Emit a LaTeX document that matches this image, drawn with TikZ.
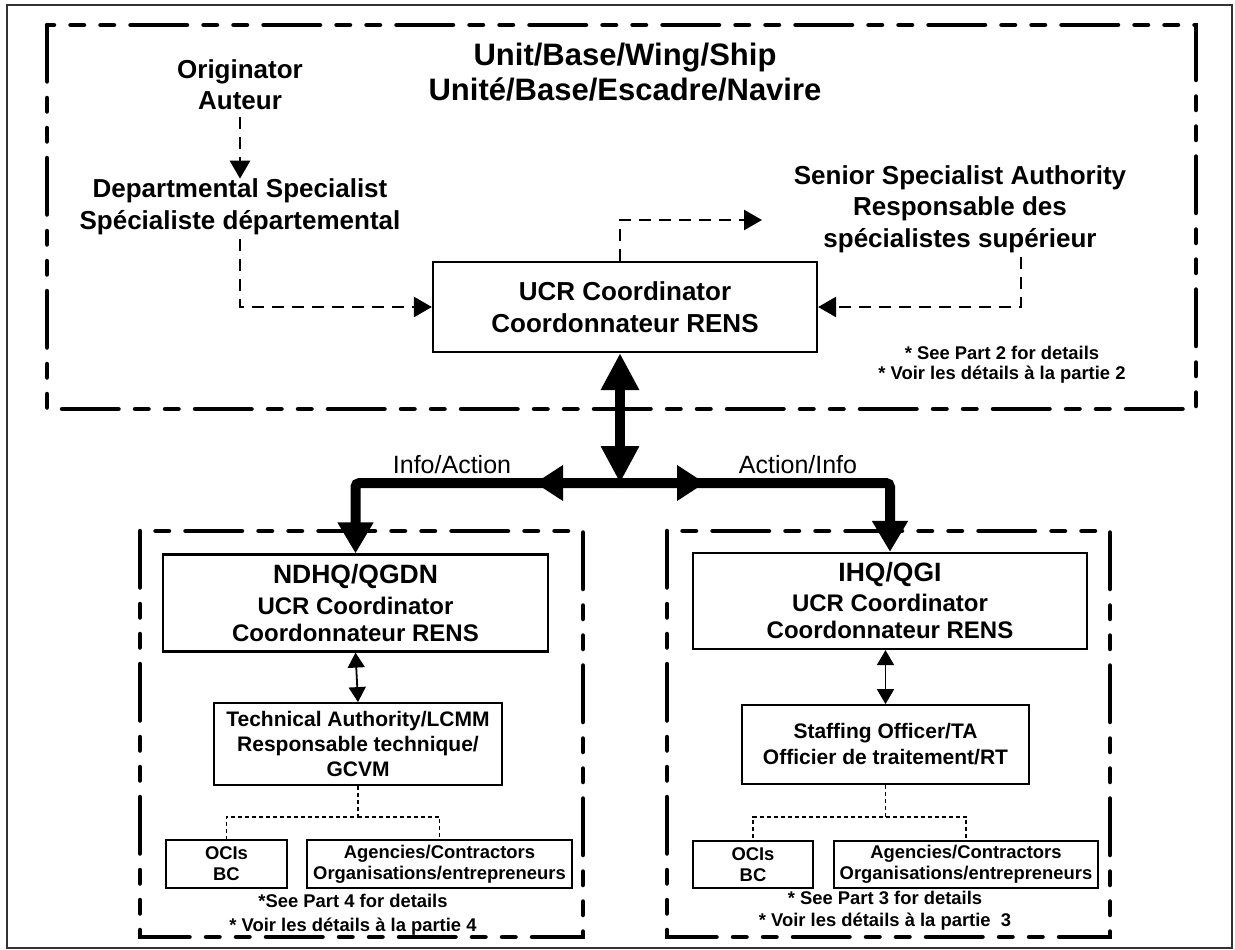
\documentclass[tikz,border=0pt]{standalone}
\usepackage{fontspec}
\setmainfont{Liberation Sans}
\usetikzlibrary{arrows.meta,decorations.markings}
\newcommand{\fsz}[2]{\fontsize{#1}{#2}\selectfont}
\begin{document}
\begin{tikzpicture}[x=1pt,y=-1pt,
  lbl/.style={align=center, inner sep=0pt, font=\bfseries\fsz{26}{31}},
  bx/.style={draw, line width=2.2pt, inner sep=0pt, align=center},
  sbx/.style={draw, line width=1.8pt, inner sep=0pt, align=center},
  note/.style={align=center, inner sep=0pt},
  dbox/.style={line width=4.5pt, line cap=round, dash pattern=on 56.5pt off 16.5pt on 13.5pt off 16.5pt on 13.5pt off 16.5pt},
  dconn/.style={line width=2.5pt, dash pattern=on 12pt off 8pt, -{Triangle[length=18pt 0,width=20pt 0]}},
  bigc/.style={line width=10pt, rounded corners=4pt, -{Triangle[length=31pt 0,width=34pt 0]}},
  midarrow/.style={postaction={decorate}, decoration={markings, mark=at position #1 with {\arrow{Triangle[length=28pt 0,width=34pt 0]}}}},
  bigdbl/.style={line width=10pt, >={Triangle[length=37pt 0,width=36pt 0]}, <->},
  smalldbl/.style={line width=1.8pt, >={Triangle[length=15pt 0,width=17pt 0]}, <->},
  dotc/.style={line width=1.3pt, dash pattern=on 4pt off 3pt}
]
\useasboundingbox (0,0) rectangle (1235,950);
\fill[white] (0,0) rectangle (1235,950);

% frames
\draw[line width=1.8pt, black!80] (7,5) rectangle (1232,948);
\draw[dbox] (47,25) rectangle (1196,409);
\draw[dbox] (140,531) rectangle (583,937);
\draw[dbox] (667,531) rectangle (1110,937);

% top area
\node[lbl, font=\bfseries\fsz{31}{35}] (title) at (625,72) {Unit/Base/Wing/Ship\\Unité/Base/Escadre/Navire};
\node[lbl] (orig) at (240,85) {Originator\\Auteur};
\node[lbl, font=\bfseries\fsz{26}{32}] (dept) at (240,207) {Departmental Specialist\\Spécialiste départemental};
\node[lbl, font=\bfseries\fsz{26}{31.5}] (ssa) at (960,209) {Senior Specialist Authority\\Responsable des\\spécialistes supérieur};
\node[bx, minimum width=384pt, minimum height=90pt, font=\bfseries\fsz{26}{32}] (ucr) at (625,307) {UCR Coordinator\\Coordonnateur RENS};
\node[note, font=\bfseries\fsz{18.4}{20}] (n2) at (1002,365) {* See Part 2 for details\\* Voir les détails à la partie 2};

\coordinate (hub) at (620,483);
\coordinate (ssaend) at (762,220);
\coordinate (ssadrop) at (1021,257);

\node[inner sep=0pt, font=\fsz{25}{30}] (ia) at (452,465) {Info/Action};
\node[inner sep=0pt, font=\fsz{25}{30}] (ai) at (798,465) {Action/Info};

% lower left
\node[bx, minimum width=385pt, minimum height=97pt, font=\bfseries\fsz{24}{27}] (ndhq) at (355.5,603) {{\fsz{26.5}{27}NDHQ/QGDN}\\[4pt]UCR Coordinator\\Coordonnateur RENS};
\node[sbx, minimum width=288pt, minimum height=82pt, font=\bfseries\fsz{21}{25}] (ta) at (358,744) {Technical Authority/LCMM\\Responsable technique/\\GCVM};
\node[sbx, minimum width=121pt, minimum height=48pt, font=\bfseries\fsz{18.4}{21}] (ocil) at (226.5,864) {OCIs\\BC};
\node[sbx, minimum width=265pt, minimum height=48pt, font=\bfseries\fsz{18.4}{21}] (agl) at (439.5,864) {Agencies/Contractors\\Organisations/entrepreneurs};
\node[note, font=\bfseries\fsz{18.4}{24}] (n4) at (353,915) {*See Part 4 for details\\* Voir les détails à la partie 4};

% lower right
\node[bx, minimum width=394pt, minimum height=96pt, font=\bfseries\fsz{24}{27}] (ihq) at (890,601) {{\fsz{26.5}{27}IHQ/QGI}\\[3pt]UCR Coordinator\\Coordonnateur RENS};
\node[sbx, minimum width=287pt, minimum height=79pt, font=\bfseries\fsz{21}{26}] (so) at (885.5,744.5) {Staffing Officer/TA\\Officier de traitement/RT};
\node[sbx, minimum width=120pt, minimum height=47pt, font=\bfseries\fsz{18.4}{21}] (ocir) at (753,864.5) {OCIs\\BC};
\node[sbx, minimum width=264pt, minimum height=47pt, font=\bfseries\fsz{18.4}{21}] (agr) at (966,864.5) {Agencies/Contractors\\Organisations/entrepreneurs};
\node[note, font=\bfseries\fsz{18.4}{22}] (n3) at (885,911) {* See Part 3 for details\\* Voir les détails à la partie~~3};

% connectors
\draw[dconn, shorten <=7pt] (orig) -- (dept);
\draw[dconn, shorten <=4pt] (dept.south) |- (ucr.west);
\draw[dconn] (ucr.north -| hub) |- (ssaend);
\draw[dconn] (ssadrop) |- (ucr.east);
\draw[bigdbl] (ucr.south -| hub) -- (hub);
\draw[bigc, midarrow=85pt] (hub) -| (ndhq.north);
\draw[bigc, midarrow=85pt] (hub) -| (ihq.north);
\draw[smalldbl] (ndhq.south) -- (ta.north);
\draw[smalldbl] (so.north |- ihq.south) -- (so.north);
\draw[dotc] (ta.south) -- ++(0,31) -| (ocil.north);
\draw[dotc] (ta.south) ++(0,31) -| (agl.north);
\draw[dotc] (so.south) -- ++(0,32) -| (ocir.north);
\draw[dotc] (so.south) ++(0,32) -| (agr.north);
\end{tikzpicture}
\end{document}
